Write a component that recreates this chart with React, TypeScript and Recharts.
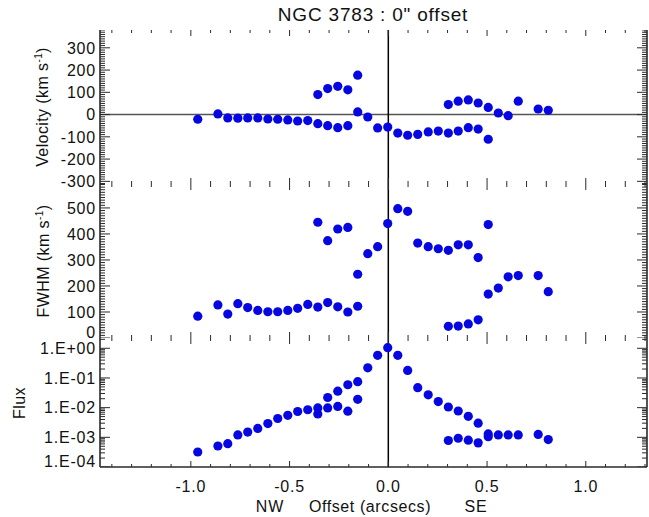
import { ScatterChart, Scatter, XAxis, YAxis, ReferenceLine } from 'recharts'

// slit offsets (arcsec), one entry per extracted spectrum
const OFFSETS = [
  -0.965, -0.863, -0.813, -0.762, -0.712, -0.661, -0.61, -0.56, -0.509, -0.459, -0.408, -0.357,
  -0.307, -0.256, -0.205, -0.155, -0.104, -0.054, -0.003, 0.048, 0.098, 0.149, 0.202, 0.253,
  0.304, 0.354, 0.405, 0.455, 0.506, 0.557, 0.607, 0.658, 0.759, 0.81,
]

// two kinematic components, null where a component was not fitted
const VEL_A = [
  -21, 3, -15, -16, -15, -15, -20, -21, -24, -29, -27, -41, -50, -59, -50, 12, -11, -60, -56, -83,
  -93, -89, -78, -74, -83, -74, -59, -65, -111, null, null, null, null, null,
]
const VEL_B = [
  null, null, null, null, null, null, null, null, null, null, null, 90, 117, 127, 111, 177, null,
  null, null, null, null, null, null, null, 45, 60, 66, 52, 32, 7, -5, 60, 25, 19,
]
const FWHM_A = [
  84, 127, 92, 132, 117, 106, 101, 101, 106, 114, 129, 119, 136, 120, 100, 122, 324, 351, 440, 497,
  487, 365, 351, 343, 337, 358, 358, 309, 436, null, null, null, null, null,
]
const FWHM_B = [
  null, null, null, null, null, null, null, null, null, null, null, 445, 374, 419, 425, 245, null,
  null, null, null, null, null, null, null, 45, 46, 54, 70, 169, 192, 235, 240, 240, 178,
]
const FLUX_A = [
  3.2e-4, 5.1e-4, 6.1e-4, 1.2e-3, 1.5e-3, 2.0e-3, 2.9e-3, 4.3e-3, 5.5e-3, 7.4e-3, 8.5e-3, 9.8e-3,
  2.2e-2, 3.6e-2, 5.9e-2, 7.5e-2, 0.22, 0.58, 1.05, 0.58, 0.18, 0.047, 0.027, 0.016, 0.0105,
  7.7e-3, 5.1e-3, 3.0e-3, 1.3e-3, null, null, null, null, null,
]
const FLUX_B = [
  null, null, null, null, null, null, null, null, null, null, null, 6.1e-3, 9.8e-3, 1.1e-2, 7.6e-3,
  1.9e-2, null, null, null, null, null, null, null, null, 7.8e-4, 9.3e-4, 8.0e-4, 6.5e-4, 1.05e-3,
  1.2e-3, 1.2e-3, 1.2e-3, 1.25e-3, 8.4e-4,
]

const X_DOMAIN = [-1.46, 1.31]
const X_MAJOR = [-1.0, -0.5, 0.0, 0.5, 1.0]
const X_MINOR = [
  -1.4, -1.3, -1.2, -1.1, -0.9, -0.8, -0.7, -0.6, -0.4, -0.3, -0.2, -0.1, 0.1, 0.2, 0.3, 0.4, 0.6,
  0.7, 0.8, 0.9, 1.1, 1.2, 1.3,
]

const VEL_MAJOR = [-300, -200, -100, 0, 100, 200, 300]
const FWHM_MAJOR = [0, 100, 200, 300, 400, 500]
const FLUX_MAJOR = [1e-4, 1e-3, 1e-2, 1e-1, 1]

const minorTicks = (from: number, to: number, step: number, skip: number[]) => {
  const out: number[] = []
  for (let v = from; v <= to; v += step) if (!skip.includes(v)) out.push(v)
  return out
}
const VEL_MINOR = minorTicks(-310, 380, 10, VEL_MAJOR)
const FWHM_MINOR = minorTicks(0, 590, 10, FWHM_MAJOR)
const FLUX_MINOR: number[] = []
for (const d of [1e-4, 1e-3, 1e-2, 1e-1, 1]) {
  for (let m = 2; m <= 9; m++) if (d * m <= 2.2) FLUX_MINOR.push(d * m)
}

const W = 649
const H = 517
const DOT = '#0606e0'
const FRAME = '#2a2a2a'
const FONT = '"Liberation Sans", Arial, sans-serif'

const pts = (ys: (number | null)[]) =>
  OFFSETS.map((x, i) => ({ x, y: ys[i] })).filter((p) => p.y !== null)

const fmtExp = (v: number) => {
  const e = Math.round(Math.log10(v))
  return `1.E${e >= 0 ? '+' : '-'}${String(Math.abs(e)).padStart(2, '0')}`
}

const yLabel = (fmt: (v: number) => string, lift: number | null) => (p: any) => {
  const { x, y, payload } = p
  const up = lift !== null && Math.abs(payload.value - lift) < 1e-9 ? -6 : 0
  return (
    <text x={x - 4} y={y + up} dy="0.36em" textAnchor="end" fontSize={16} letterSpacing={0.8} fill="#111" fontFamily={FONT}>
      {fmt(payload.value)}
    </text>
  )
}

const xLabel = (p: any) => (
  <text x={p.x} y={p.y + 25} textAnchor="middle" fontSize={16} letterSpacing={0.8} fill="#111" fontFamily={FONT}>
    {p.payload.value.toFixed(1)}
  </text>
)

const Dot = (p: any) => <circle cx={p.cx} cy={p.cy} r={4.6} fill={DOT} />

// inward tick marks, drawn as scatters so the chart's own scales place them
const xTickShape = (dir: number) => (p: any) => {
  const { cx, cy, payload } = p
  const len = payload.major ? 6 : 3
  return <path d={`M${cx},${cy}L${cx},${cy + dir * len}`} stroke={FRAME} strokeWidth={1} fill="none" />
}
const yTickShape = (dir: number) => (p: any) => {
  const { cx, cy, payload } = p
  const len = payload.major ? 10 : 5
  return <rect x={dir > 0 ? cx : cx - len} y={cy - 0.5} width={len} height={1} fill={FRAME} />
}

interface PanelProps {
  height: number
  top: number
  bottom: number
  domain: number[]
  majors: number[]
  minors: number[]
  fmt: (v: number) => string
  log?: boolean
  lift?: number | null
  seriesA: (number | null)[]
  seriesB: (number | null)[]
  zeroLine?: boolean
  xLabels?: boolean
}

function Panel({ height, top, bottom, domain, majors, minors, fmt, log, lift = null, seriesA, seriesB, zeroLine, xLabels }: PanelProps) {
  const scale = log ? 'log' : 'auto'
  const xTicks = [...X_MAJOR.map((v) => ({ v, major: true })), ...X_MINOR.map((v) => ({ v, major: false }))]
  const bottomT = xTicks.map((t) => ({ x: t.v, y: domain[0], major: t.major }))
  const topT = xTicks.map((t) => ({ x: t.v, y: domain[1], major: t.major }))
  const yTicks = [...majors.map((v) => ({ v, major: true })), ...minors.map((v) => ({ v, major: false }))]
  const leftT = yTicks.map((t) => ({ x: X_DOMAIN[0], y: t.v, major: t.major }))
  const rightT = yTicks.map((t) => ({ x: X_DOMAIN[1], y: t.v, major: t.major }))
  const axisLine = { stroke: FRAME, strokeWidth: 1.6 }
  return (
    <div style={{ position: 'absolute', left: 0, top: 0 }}>
      <ScatterChart width={W} height={height} margin={{ top, bottom, left: 0, right: 0 }}>
        <XAxis xAxisId="b" type="number" dataKey="x" domain={X_DOMAIN} allowDataOverflow ticks={X_MAJOR} interval={0}
          height={xLabels ? 30 : 0} tickSize={0} tickMargin={0} tickLine={false} axisLine={axisLine}
          tick={xLabels ? xLabel : () => <g />} />
        <XAxis xAxisId="t" orientation="top" type="number" dataKey="x" domain={X_DOMAIN} allowDataOverflow ticks={X_MAJOR}
          interval={0} height={0} tickSize={0} tickMargin={0} tickLine={false} axisLine={axisLine} tick={() => <g />} />
        <YAxis yAxisId="l" type="number" dataKey="y" scale={scale} domain={domain} allowDataOverflow ticks={majors}
          interval={0} width={100} tickSize={0} tickMargin={0} tickLine={false} axisLine={axisLine}
          tick={yLabel(fmt, lift)} />
        <YAxis yAxisId="r" orientation="right" type="number" dataKey="y" scale={scale} domain={domain}
          allowDataOverflow ticks={majors} interval={0} width={2} tickSize={0} tickMargin={0} tickLine={false}
          axisLine={axisLine} tick={() => <g />} />
        {zeroLine && <ReferenceLine xAxisId="b" yAxisId="l" y={0} stroke="#555" strokeWidth={1.6} />}
        <ReferenceLine xAxisId="b" yAxisId="l" x={0} stroke="#000" strokeWidth={1.5} />
        <Scatter xAxisId="b" yAxisId="l" data={leftT} shape={yTickShape(1)} isAnimationActive={false} />
        <Scatter xAxisId="b" yAxisId="l" data={rightT} shape={yTickShape(-1)} isAnimationActive={false} />
        <Scatter xAxisId="b" yAxisId="l" data={bottomT} shape={xTickShape(-1)} isAnimationActive={false} />
        <Scatter xAxisId="b" yAxisId="l" data={topT} shape={xTickShape(1)} isAnimationActive={false} />
        <Scatter xAxisId="b" yAxisId="l" data={pts(seriesA)} shape={Dot} isAnimationActive={false} />
        <Scatter xAxisId="b" yAxisId="l" data={pts(seriesB)} shape={Dot} isAnimationActive={false} />
      </ScatterChart>
    </div>
  )
}

const txt = { fontFamily: FONT, fill: '#111' }

export default function App() {
  return (
    <div style={{ position: 'absolute', left: 0, top: 0, width: W, height: H, background: '#fff' }}>
      <Panel height={190} top={30} bottom={6} domain={[-312, 380]} majors={VEL_MAJOR} minors={VEL_MINOR}
        fmt={(v) => String(v)} seriesA={VEL_A} seriesB={VEL_B} zeroLine />
      <Panel height={345} top={184} bottom={7} domain={[0, 592]} majors={FWHM_MAJOR} minors={FWHM_MINOR}
        fmt={(v) => String(v)} lift={0} seriesA={FWHM_A} seriesB={FWHM_B} />
      <Panel height={H} top={338} bottom={20} domain={[1e-4, 2.22]} majors={FLUX_MAJOR} minors={FLUX_MINOR}
        fmt={fmtExp} log lift={1e-4} seriesA={FLUX_A} seriesB={FLUX_B} xLabels />
      <svg width={W} height={H} style={{ position: 'absolute', left: 0, top: 0, pointerEvents: 'none' }}>
        <text x={373} y={21} textAnchor="middle" fontSize={19} letterSpacing={0.8} {...txt}>NGC 3783 : 0" offset</text>
        <text transform="rotate(-90 48 107)" x={48} y={107} textAnchor="middle" fontSize={16} letterSpacing={0.4} {...txt}>
          Velocity (km s<tspan dy={-6} fontSize={10}>-1</tspan><tspan dy={6}>)</tspan>
        </text>
        <text transform="rotate(-90 49 261)" x={49} y={261} textAnchor="middle" fontSize={16} letterSpacing={0.4} {...txt}>
          FWHM (km s<tspan dy={-6} fontSize={10}>-1</tspan><tspan dy={6}>)</tspan>
        </text>
        <text transform="rotate(-90 25 403)" x={25} y={403} textAnchor="middle" fontSize={16} letterSpacing={0.4} {...txt}>
          Flux
        </text>
        <text x={270} y={512} textAnchor="middle" fontSize={16} letterSpacing={0.8} {...txt}>NW</text>
        <text x={370} y={512} textAnchor="middle" fontSize={16} letterSpacing={0.6} {...txt}>Offset (arcsecs)</text>
        <text x={476} y={512} textAnchor="middle" fontSize={16} letterSpacing={0.8} {...txt}>SE</text>
      </svg>
    </div>
  )
}
